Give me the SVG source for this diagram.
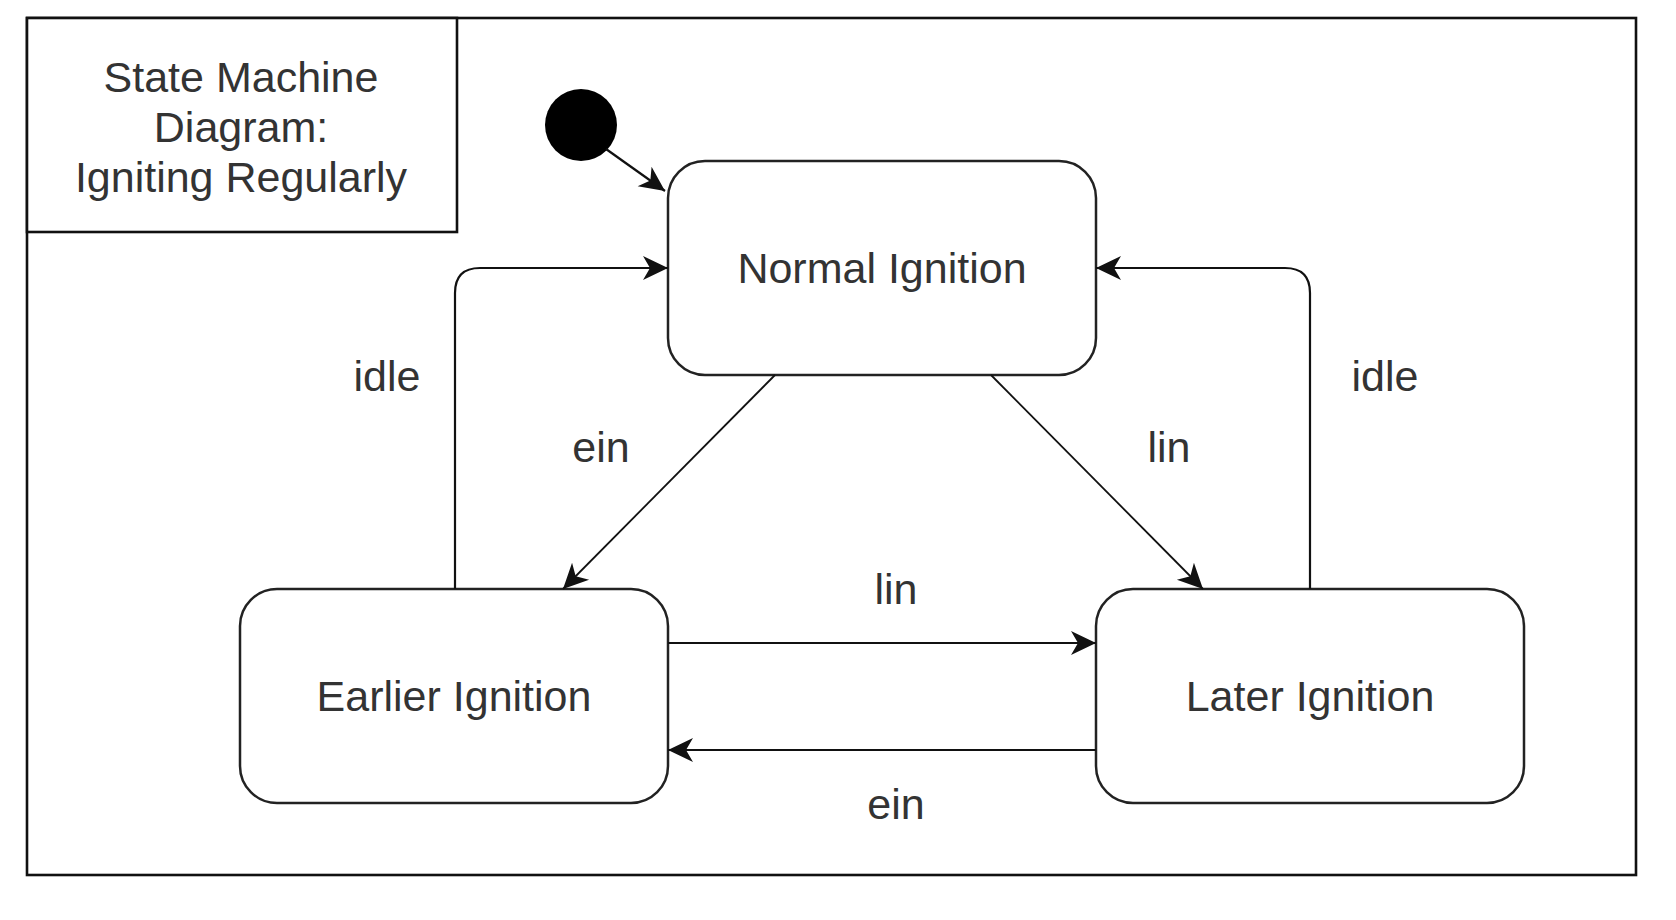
<svg xmlns="http://www.w3.org/2000/svg" width="1676" height="920" viewBox="0 0 1676 920">
<style>
.frame{fill:#fff;stroke:#111;stroke-width:2.6}
.state{fill:#fff;stroke:#222;stroke-width:2.5}
.t{font-family:"Liberation Sans",Arial,sans-serif;font-size:43px;fill:#333;text-anchor:middle;dominant-baseline:central}
.c{fill:none;stroke:#111;stroke-width:2.2}
.d{fill:none;stroke:#111;stroke-width:1.8}
</style>
<defs>
<marker id="arr" viewBox="0 0 26 26" markerWidth="26" markerHeight="26" refX="25" refY="13" orient="auto" markerUnits="userSpaceOnUse">
<path d="M0,1 L25,13 L0,25 L7,13 Z" fill="#111"/>
</marker>
</defs>
<rect width="1676" height="920" fill="#fff"/>
<g id="frame">
<rect class="frame" x="27" y="18" width="1609" height="857"/>
</g>
<g id="title">
<rect class="frame" x="27" y="18" width="430" height="214"/>
<text class="t" x="241" y="77">State Machine</text>
<text class="t" x="241" y="127">Diagram:</text>
<text class="t" x="241" y="177">Igniting Regularly</text>
</g>
<g id="initial">
<circle cx="581" cy="125" r="36" fill="#000"/>
</g>
<g id="normal">
<rect class="state" x="668" y="161" width="428" height="214" rx="37" ry="37"/>
<text class="t" x="882" y="268">Normal Ignition</text>
</g>
<g id="earlier">
<rect class="state" x="240" y="589" width="428" height="214" rx="37" ry="37"/>
<text class="t" x="454" y="696">Earlier Ignition</text>
</g>
<g id="later">
<rect class="state" x="1096" y="589" width="428" height="214" rx="37" ry="37"/>
<text class="t" x="1310" y="696">Later Ignition</text>
</g>
<g id="connectors">
<path class="c" d="M606,149 L665,191" marker-end="url(#arr)"/>
<path class="c" d="M455,589 V293 Q455,268 480,268 H668" marker-end="url(#arr)"/>
<path class="c" d="M1310,589 V293 Q1310,268 1285,268 H1096" marker-end="url(#arr)"/>
<path class="d" d="M775,375 L563,589" marker-end="url(#arr)"/>
<path class="d" d="M991,375 L1203,589" marker-end="url(#arr)"/>
<path class="c" d="M668,643 H1096" marker-end="url(#arr)"/>
<path class="c" d="M1096,750 H668" marker-end="url(#arr)"/>
<text class="t" x="387" y="376">idle</text>
<text class="t" x="1385" y="376">idle</text>
<text class="t" x="601" y="447">ein</text>
<text class="t" x="1169" y="447">lin</text>
<text class="t" x="896" y="589">lin</text>
<text class="t" x="896" y="804">ein</text>
</g>
</svg>
